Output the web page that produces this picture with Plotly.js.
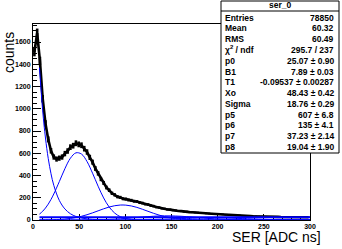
<!DOCTYPE html>
<html>
<head>
<meta charset="utf-8">
<script src="https://cdn.plot.ly/plotly-3.0.1.min.js"></script>
<style>html,body{margin:0;padding:0;background:#fff;}#chart{width:342px;height:249px;}</style>
</head>
<body>
<div id="chart"></div>
<script>
// ---- Histogram data (bin centres, counts) ----
var BIN_X = [1.5,4.5,7.5,10.5,13.5,16.5,19.5,22.5,25.5,28.5,31.5,34.5,37.5,40.5,43.5,46.5,49.5,52.5,55.5,58.5,
  61.5,64.5,67.5,70.5,73.5,76.5,79.5,82.5,85.5,88.5,91.5,94.5,97.5,100.5,103.5,106.5,109.5,112.5,115.5,118.5,
  121.5,124.5,127.5,130.5,133.5,136.5,139.5,142.5,145.5,148.5,151.5,154.5,157.5,160.5,163.5,166.5,169.5,172.5,175.5,178.5,
  181.5,184.5,187.5,190.5,193.5,196.5,199.5,202.5,205.5,208.5,211.5,214.5,217.5,220.5,223.5,226.5,229.5,232.5,235.5,238.5,
  241.5,244.5,247.5,250.5,253.5,256.5,259.5,262.5,265.5,268.5,271.5,274.5,277.5,280.5,283.5,286.5,289.5,292.5,295.5,298.5];
var COUNTS = [1510,1680,1430,1090,868,725,622,566,548,556,566,597,620,655,668,690,680,672,641,611,
  563,520,463,419,368,333,292,268,240,226,209,203,191,188,180,177,169,166,156,152,
  143,139,129,125,116,112,104,101,95,93,87,86,81,80,75,75,71,70,67,66,
  63,62,59,58,56,55,52,51,50,47,47,44,44,42,41,39,38,37,36,34,
  34,33,31,31,30,29,29,28,28,27,27,26,27,26,26,25,26,25,25,25];

// ---- Fit curves (sampled) ----
var FIT_X = [7,10.5,13.5,16.5,19.5,22.5,28.5,34.5,40.5,46.5,52.5,58.5,64.5,70.5,76.5,82.5,88.5,94.5,100.5,106.5,
  112.5,118.5,124.5,130.5,136.5,142.5,148.5,154.5,160.5,166.5,172.5,178.5,184.5,190.5,196.5,202.5,208.5,214.5,220.5,226.5,
  232.5,238.5,244.5,250.5,256.5,262.5,268.5,274.5,280.5,286.5,292.5,300];
var FIT_TOTAL = [1447,1085,870,722,628,573,551,594,651,683,670,609,517,417,330,265,225,201,187,176,
  165,151,137,124,111,100,92,85,79,74,70,66,62,58,55,51,48,45,42,40,
  37,35,33,31,30,28.7,27.7,27,26.4,26,25.7,25.5];
var FIT_EXPO = [1369,981,737,553,416,312,176,99.5,56.2,31.7,17.9,10.1,5.7,3.2,1.8,1.0,0.6,0.3,0.2,0.1,
  0.1,0,0,0,0,0,0,0,0,0,0,0,0,0,0,0,0,0,0,0,
  0,0,0,0,0,0,0,0,0,0,0,0];
var FIT_GAUS1 = [53,78.6,107.3,142.7,184.8,233.6,345.2,460.7,555.2,603.8,593,525.5,420.6,303.9,198.2,116.7,62,29.8,12.9,5.0,
  1.8,0.5,0.1,0,0,0,0,0,0,0,0,0,0,0,0,0,0,0,0,0,
  0,0,0,0,0,0,0,0,0,0,0,0];
var FIT_GAUS2 = [0.4,0.7,1.0,1.4,1.9,2.7,4.9,8.5,14.1,22.3,33.4,47.5,64.2,82.4,100.6,116.6,128.5,134.5,133.7,126.4,
  113.5,96.6,78.3,60.3,44.2,30.7,20.3,12.7,7.6,4.3,2.3,1.2,0.6,0.3,0.1,0,0,0,0,0,
  0,0,0,0,0,0,0,0,0,0,0,0];
var FIT_GAUS3 = [0,0,0,0,0,0.03,0.06,0.11,0.2,0.37,0.63,1.05,1.7,2.6,4.0,5.8,8.1,11.0,14.4,18.3,
  22.4,26.5,30.3,33.6,35.9,37.1,37.05,35.8,33.4,30.1,26.2,22.1,18.0,14.1,10.8,7.9,5.6,3.9,2.6,1.6,
  1.0,0.6,0.3,0.2,0.1,0,0,0,0,0,0,0];
var FIT_GAUS4 = [0,0,0,0,0,0,0,0,0,0,0,0.03,0.05,0.09,0.14,0.23,0.37,0.57,0.87,1.27,
  1.83,2.55,3.5,4.6,6.0,7.5,9.2,11.0,12.9,14.6,16.2,17.5,18.5,18.95,19.0,18.5,17.6,16.3,14.8,13.0,
  11.2,9.4,7.6,6.1,4.7,3.6,2.6,1.9,1.3,0.9,0.6,0.4];
var CONST_X = [7,300];
var CONST_Y = [25.07,25.07];

// ---- Stats box ----
var STAT_TITLE = 'ser_0';
var STAT_NAMES = ['Entries','Mean','RMS','\u03c7<sup>2</sup> / ndf','p0','B1','T1','Xo','Sigma','p5','p6','p7','p8'];
var STAT_VALUES = ['78850','60.32','60.49','295.7 / 237','25.07 \u00b1 0.90','7.89 \u00b1 0.03','-0.09537 \u00b1 0.00287',
  '48.43 \u00b1 0.42','18.76 \u00b1 0.29','607 \u00b1 6.8','135 \u00b1 4.1','37.23 \u00b1 2.14','19.04 \u00b1 1.90'];

var X_TITLE = 'SER [ADC ns]';
var Y_TITLE = 'counts';

// ---- layout geometry (pixels) ----
var L = 33, T = 24, W = 277, H = 196;
function px(x){ return (x - L) / W; }
function py(y){ return (T + H - y) / H; }

var BLUE = '#0000ff';
var traces = [
  {x: FIT_X, y: FIT_TOTAL, mode: 'lines', line: {color: BLUE, width: 1.2, shape: 'spline'}, hoverinfo: 'skip'},
  {x: BIN_X, y: COUNTS, mode: 'lines', line: {color: 'black', width: 2.6},
   error_y: {type: 'sqrt', visible: true, color: 'black', thickness: 2.6, width: 0}},
  {x: FIT_X, y: FIT_EXPO, mode: 'lines', line: {color: BLUE, width: 1, shape: 'spline'}},
  {x: FIT_X, y: FIT_GAUS1, mode: 'lines', line: {color: BLUE, width: 1, shape: 'spline'}},
  {x: FIT_X, y: FIT_GAUS2, mode: 'lines', line: {color: BLUE, width: 1, shape: 'spline'}},
  {x: FIT_X, y: FIT_GAUS3, mode: 'lines', line: {color: BLUE, width: 1, shape: 'spline'}},
  {x: FIT_X, y: FIT_GAUS4, mode: 'lines', line: {color: BLUE, width: 1, shape: 'spline'}},
  {x: CONST_X, y: CONST_Y, mode: 'lines', line: {color: BLUE, width: 2}}
];

var tickFont = {family: 'Liberation Sans', size: 7, weight: 'bold', color: 'black'};
var statFont = {family: 'Liberation Sans', size: 8.5, weight: 'bold', color: 'black'};

var annotations = [];
annotations.push({xref:'paper', yref:'paper', x: px(280), y: py(5.5), text: STAT_TITLE, showarrow:false,
  xanchor:'center', yanchor:'middle', font: statFont});
for (var i = 0; i < STAT_NAMES.length; i++) {
  var yy = py(17.5 + 10.8 * i);
  annotations.push({xref:'paper', yref:'paper', x: px(223), y: yy, text: STAT_NAMES[i], showarrow:false,
    xanchor:'left', yanchor:'middle', font: statFont});
  annotations.push({xref:'paper', yref:'paper', x: px(336), y: yy, text: STAT_VALUES[i], showarrow:false,
    xanchor:'right', yanchor:'middle', font: statFont});
}
annotations.push({xref:'paper', yref:'paper', x: px(323), y: py(237), text: X_TITLE, showarrow:false,
  xanchor:'right', yanchor:'middle', font: {family:'Liberation Sans', size: 14, color:'black'}});
annotations.push({xref:'paper', yref:'paper', x: px(8.5), y: py(30), text: Y_TITLE, showarrow:false, textangle: -90,
  xanchor:'center', yanchor:'top', font: {family:'Liberation Sans', size: 14, color:'black'}});

var layout = {
  width: 342, height: 249,
  margin: {l: L, r: 342 - L - W, t: T, b: 249 - T - H, pad: 0},
  paper_bgcolor: 'white', plot_bgcolor: 'white',
  showlegend: false,
  xaxis: {range: [0, 300], showgrid: false, zeroline: false, showline: true, mirror: true, linecolor: 'black', linewidth: 1,
    ticks: 'inside', ticklen: 6, tickcolor: 'black', dtick: 50, tick0: 0, tickfont: tickFont, layer: 'below traces',
    minor: {ticks: 'inside', ticklen: 3, dtick: 10, tickcolor: 'black', showgrid: false}},
  yaxis: {range: [0, 1762], showgrid: false, zeroline: false, showline: true, mirror: true, linecolor: 'black', linewidth: 1,
    ticks: 'inside', ticklen: 8, tickcolor: 'black', dtick: 200, tick0: 0, tickfont: tickFont, layer: 'below traces',
    minor: {ticks: 'inside', ticklen: 4, dtick: 50, tickcolor: 'black', showgrid: false}},
  shapes: [
    {type: 'rect', xref: 'paper', yref: 'paper', x0: px(221), x1: px(339), y0: py(153), y1: py(1),
     fillcolor: 'white', line: {color: 'black', width: 1}, layer: 'above'},
    {type: 'line', xref: 'paper', yref: 'paper', x0: px(221), x1: px(339), y0: py(11), y1: py(11),
     line: {color: 'black', width: 1}, layer: 'above'}
  ],
  annotations: annotations
};

Plotly.newPlot('chart', traces, layout, {staticPlot: true, displayModeBar: false});
</script>
</body>
</html>
